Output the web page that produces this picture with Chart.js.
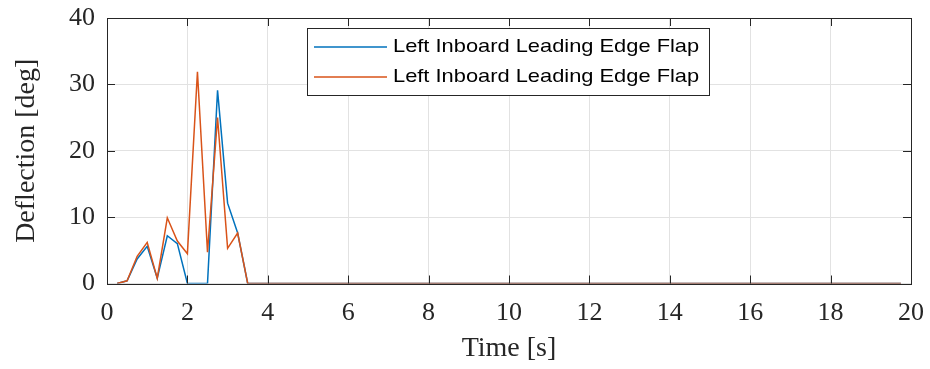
<!DOCTYPE html>
<html>
<head>
<meta charset="utf-8">
<script src="https://cdn.jsdelivr.net/npm/chart.js@4"></script>
<style>
  html, body { margin: 0; padding: 0; background: #fff; }
  #wrap { width: 930px; height: 369px; }
</style>
</head>
<body>
<div id="wrap"><canvas id="flapChart" width="930" height="369"></canvas></div>
<script>
// time samples (s) and deflections (deg)
const timeSec = [0.25, 0.5, 0.75, 1.0, 1.25, 1.5, 1.75, 2.0, 2.25, 2.5, 2.75, 3.0, 3.25, 3.5,
                 4, 5, 6, 7, 8, 9, 10, 11, 12, 13, 14, 15, 16, 17, 18, 19, 19.75];
const leftFlapA = [0, 0.4, 3.7, 5.6, 0.8, 7.2, 6.0, 0, 0, 0, 29.1, 12.1, 7.6, 0,
                   0, 0, 0, 0, 0, 0, 0, 0, 0, 0, 0, 0, 0, 0, 0, 0, 0];
const leftFlapB = [0, 0.4, 4.1, 6.2, 0.8, 9.9, 6.4, 4.5, 31.9, 4.7, 25.0, 5.3, 7.6, 0,
                   0, 0, 0, 0, 0, 0, 0, 0, 0, 0, 0, 0, 0, 0, 0, 0, 0];
const seriesNames = ['Left Inboard Leading Edge Flap', 'Left Inboard Leading Edge Flap'];
const seriesColors = ['#0072BD', '#D95319'];
const xTicks = [0, 2, 4, 6, 8, 10, 12, 14, 16, 18, 20];
const yTicks = [0, 10, 20, 30, 40];

const serif = '"Liberation Serif", "Times New Roman", serif';
const sans = '"Liberation Sans", Arial, sans-serif';

// box around the axes with inward ticks, plus an in-plot legend
const matlabBox = {
    id: 'matlabBox',
    afterDatasetsDraw(chart) {
        const { ctx, chartArea: a, scales } = chart;
        ctx.save();
        ctx.strokeStyle = '#262626';
        ctx.lineWidth = 1;
        ctx.beginPath();
        xTicks.forEach(v => {
            const px = Math.round(scales.x.getPixelForValue(v)) + 0.5;
            ctx.moveTo(px, a.bottom); ctx.lineTo(px, a.bottom - 8);
            ctx.moveTo(px, a.top); ctx.lineTo(px, a.top + 8);
        });
        yTicks.forEach(v => {
            const py = Math.round(scales.y.getPixelForValue(v)) + 0.5;
            ctx.moveTo(a.left, py); ctx.lineTo(a.left + 8, py);
            ctx.moveTo(a.right, py); ctx.lineTo(a.right - 8, py);
        });
        ctx.stroke();
        ctx.strokeRect(Math.round(a.left) + 0.5, Math.round(a.top) + 0.5,
                       Math.round(a.right - a.left), Math.round(a.bottom - a.top));

        // legend (legend order follows dataset index, not draw order)
        const lx = 307, ly = 28, lw = 402, lh = 67;
        ctx.fillStyle = '#fff';
        ctx.fillRect(lx, ly, lw, lh);
        ctx.strokeStyle = '#262626';
        ctx.strokeRect(lx + 0.5, ly + 0.5, lw, lh);
        ctx.font = '19px ' + sans;
        ctx.textBaseline = 'middle';
        chart.data.datasets.forEach((ds, i) => {
            const y = ly + 19 + i * 30;
            ctx.strokeStyle = ds.borderColor;
            ctx.lineWidth = 1.4;
            ctx.beginPath();
            ctx.moveTo(lx + 7, y); ctx.lineTo(lx + 80, y);
            ctx.stroke();
            ctx.fillStyle = '#000';
            ctx.save();
            ctx.translate(lx + 86, y);
            ctx.scale(1.15, 1);
            ctx.fillText(ds.label, 0, 0);
            ctx.restore();
        });
        ctx.restore();
    }
};

new Chart(document.getElementById('flapChart'), {
    type: 'line',
    data: {
        datasets: [
            { label: seriesNames[0], data: timeSec.map((t, i) => ({ x: t, y: leftFlapA[i] })),
              borderColor: seriesColors[0], borderWidth: 1.5, pointRadius: 0, tension: 0, order: 1 },
            { label: seriesNames[1], data: timeSec.map((t, i) => ({ x: t, y: leftFlapB[i] })),
              borderColor: seriesColors[1], borderWidth: 1.5, pointRadius: 0, tension: 0, order: 0 }
        ]
    },
    options: {
        responsive: false,
        animation: false,
        layout: { padding: { top: 18, right: 19, left: 0, bottom: 0 } },
        plugins: { legend: { display: false }, tooltip: { enabled: false } },
        scales: {
            x: {
                type: 'linear', min: 0, max: 20,
                afterBuildTicks: s => { s.ticks = xTicks.map(v => ({ value: v })); },
                afterFit: s => { s.height = 85.5; s.paddingLeft = 0; s.paddingRight = 0; },
                grid: { color: '#e2e2e2', drawTicks: false },
                border: { display: false },
                ticks: { color: '#262626', font: { family: serif, size: 26 }, padding: 14, maxRotation: 0 },
                title: { display: true, text: 'Time [s]', color: '#262626',
                         font: { family: serif, size: 28 }, padding: { top: 0 } }
            },
            y: {
                min: 0, max: 40,
                afterBuildTicks: s => { s.ticks = yTicks.map(v => ({ value: v })); },
                afterFit: s => { s.width = 107; s.paddingTop = 0; s.paddingBottom = 0; },
                grid: { color: '#e2e2e2', drawTicks: false },
                border: { display: false },
                ticks: { color: '#262626', font: { family: serif, size: 26 }, padding: 12 },
                title: { display: true, text: 'Deflection [deg]', color: '#262626',
                         font: { family: serif, size: 28 }, padding: { top: 10, bottom: 0 } }
            }
        }
    },
    plugins: [matlabBox]
});
</script>
</body>
</html>
